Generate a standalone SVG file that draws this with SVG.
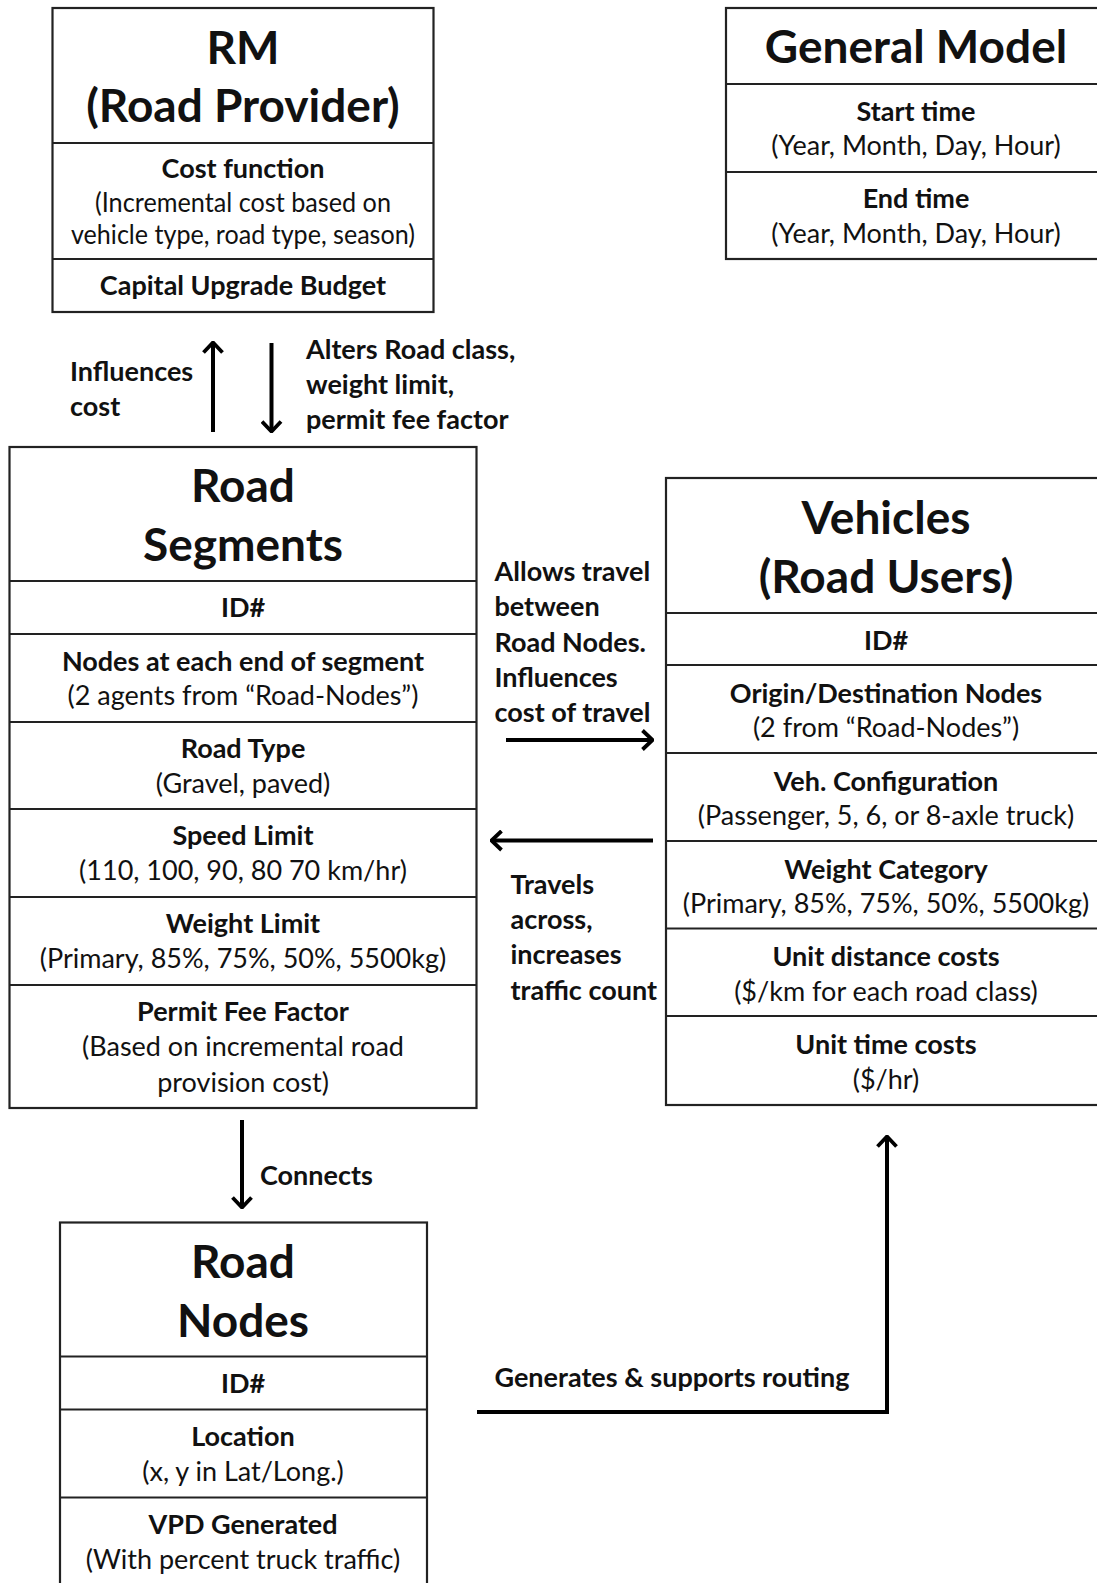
<svg xmlns="http://www.w3.org/2000/svg" width="1097" height="1583" viewBox="0 0 1097 1583">
  <style>
    .box { fill: #fff; stroke: #222; stroke-width: 2.2; }
    .div { stroke: #222; stroke-width: 2.2; }
    text { font-family: Lato, "Liberation Sans", sans-serif; fill: #111; }
    .title { font-size: 46px; font-weight: 700; text-anchor: middle; }
    .head { font-size: 27px; font-weight: 700; text-anchor: middle; }
    .sub { font-size: 27px; font-weight: 400; text-anchor: middle; }
    .lbl { font-size: 27px; font-weight: 700; }
    .conn { stroke: #000; stroke-width: 4; fill: none; marker-end: url(#chev); }
  </style>
  <defs>
    <marker id="chev" viewBox="0 0 13 22" refX="11" refY="11" markerWidth="13" markerHeight="22" markerUnits="userSpaceOnUse" orient="auto">
      <path d="M1.5,1.5 L11.5,11 L1.5,20.5" fill="none" stroke="#000" stroke-width="3.8" stroke-linejoin="miter"/>
    </marker>
  </defs>
  <rect width="1097" height="1583" fill="#fff"/>

  <!-- RM (Road Provider) -->
  <g id="rm">
    <rect class="box" x="52.5" y="8" width="381" height="304"/>
    <line class="div" x1="52.5" y1="143" x2="433.5" y2="143"/>
    <line class="div" x1="52.5" y1="259" x2="433.5" y2="259"/>
    <text class="title" x="243" y="64">RM</text>
    <text class="title" x="243" y="122">(Road Provider)</text>
    <text class="head" x="243" y="178">Cost function</text>
    <text class="sub" x="243" y="211.5" textLength="296" lengthAdjust="spacingAndGlyphs">(Incremental cost based on</text>
    <text class="sub" x="243" y="243.5" textLength="344" lengthAdjust="spacingAndGlyphs">vehicle type, road type, season)</text>
    <text class="head" x="243" y="295">Capital Upgrade Budget</text>
  </g>

  <!-- General Model -->
  <g id="general-model">
    <rect class="box" x="726" y="8" width="390" height="251"/>
    <line class="div" x1="726" y1="84" x2="1116" y2="84"/>
    <line class="div" x1="726" y1="172" x2="1116" y2="172"/>
    <text class="title" x="916" y="63">General Model</text>
    <text class="head" x="916" y="120.5">Start time</text>
    <text class="sub" x="916" y="154.5">(Year, Month, Day, Hour)</text>
    <text class="head" x="916" y="207.5">End time</text>
    <text class="sub" x="916" y="242.5">(Year, Month, Day, Hour)</text>
  </g>

  <!-- Road Segments -->
  <g id="road-segments">
    <rect class="box" x="9.5" y="447" width="467" height="661"/>
    <line class="div" x1="9.5" y1="581" x2="476.5" y2="581"/>
    <line class="div" x1="9.5" y1="634" x2="476.5" y2="634"/>
    <line class="div" x1="9.5" y1="722" x2="476.5" y2="722"/>
    <line class="div" x1="9.5" y1="809" x2="476.5" y2="809"/>
    <line class="div" x1="9.5" y1="897" x2="476.5" y2="897"/>
    <line class="div" x1="9.5" y1="985" x2="476.5" y2="985"/>
    <text class="title" x="243" y="502">Road</text>
    <text class="title" x="243" y="560.5">Segments</text>
    <text class="head" x="243" y="617">ID#</text>
    <text class="head" x="243" y="670.5">Nodes at each end of segment</text>
    <text class="sub" x="243" y="704.5">(2 agents from “Road-Nodes”)</text>
    <text class="head" x="243" y="757.5">Road Type</text>
    <text class="sub" x="243" y="792.5">(Gravel, paved)</text>
    <text class="head" x="243" y="845">Speed Limit</text>
    <text class="sub" x="243" y="879.5">(110, 100, 90, 80 70 km/hr)</text>
    <text class="head" x="243" y="933">Weight Limit</text>
    <text class="sub" x="243" y="968">(Primary, 85%, 75%, 50%, 5500kg)</text>
    <text class="head" x="243" y="1020.5">Permit Fee Factor</text>
    <text class="sub" x="243" y="1056">(Based on incremental road</text>
    <text class="sub" x="243" y="1091.5">provision cost)</text>
  </g>

  <!-- Vehicles (Road Users) -->
  <g id="vehicles">
    <rect class="box" x="666" y="478" width="450" height="627"/>
    <line class="div" x1="666" y1="613" x2="1116" y2="613"/>
    <line class="div" x1="666" y1="665" x2="1116" y2="665"/>
    <line class="div" x1="666" y1="753" x2="1116" y2="753"/>
    <line class="div" x1="666" y1="841" x2="1116" y2="841"/>
    <line class="div" x1="666" y1="928.5" x2="1116" y2="928.5"/>
    <line class="div" x1="666" y1="1016" x2="1116" y2="1016"/>
    <text class="title" x="886" y="534">Vehicles</text>
    <text class="title" x="886" y="592.5">(Road Users)</text>
    <text class="head" x="886" y="649.5">ID#</text>
    <text class="head" x="886" y="702.5">Origin/Destination Nodes</text>
    <text class="sub" x="886" y="737">(2 from “Road-Nodes”)</text>
    <text class="head" x="886" y="790.5">Veh. Configuration</text>
    <text class="sub" x="886" y="825">(Passenger, 5, 6, or 8-axle truck)</text>
    <text class="head" x="886" y="878.5">Weight Category</text>
    <text class="sub" x="886" y="912.5">(Primary, 85%, 75%, 50%, 5500kg)</text>
    <text class="head" x="886" y="966">Unit distance costs</text>
    <text class="sub" x="886" y="1000.5">($/km for each road class)</text>
    <text class="head" x="886" y="1054">Unit time costs</text>
    <text class="sub" x="886" y="1088.5">($/hr)</text>
  </g>

  <!-- Road Nodes -->
  <g id="road-nodes">
    <rect class="box" x="60" y="1222.5" width="367" height="400"/>
    <line class="div" x1="60" y1="1356.5" x2="427" y2="1356.5"/>
    <line class="div" x1="60" y1="1409.5" x2="427" y2="1409.5"/>
    <line class="div" x1="60" y1="1497.5" x2="427" y2="1497.5"/>
    <text class="title" x="243" y="1278">Road</text>
    <text class="title" x="243" y="1336.5">Nodes</text>
    <text class="head" x="243" y="1393">ID#</text>
    <text class="head" x="243" y="1445.5">Location</text>
    <text class="sub" x="243" y="1480.5">(x, y in Lat/Long.)</text>
    <text class="head" x="243" y="1533.5">VPD Generated</text>
    <text class="sub" x="243" y="1568.5">(With percent truck traffic)</text>
  </g>

  <!-- Connectors and their labels -->
  <g id="connectors">
    <line class="conn" x1="213" y1="432" x2="213" y2="343"/>
    <line class="conn" x1="271.5" y1="343" x2="271.5" y2="431"/>
    <line class="conn" x1="506" y1="740" x2="652" y2="740"/>
    <line class="conn" x1="653" y1="840.5" x2="492" y2="840.5"/>
    <line class="conn" x1="242" y1="1120" x2="242" y2="1207"/>
    <polyline class="conn" points="477,1412 887,1412 887,1137"/>

    <text class="lbl" x="70" y="380.5">Influences</text>
    <text class="lbl" x="70" y="416">cost</text>
    <text class="lbl" x="306" y="358.5">Alters Road class,</text>
    <text class="lbl" x="306" y="394">weight limit,</text>
    <text class="lbl" x="306" y="428.5">permit fee factor</text>

    <text class="lbl" x="494.5" y="580.5">Allows travel</text>
    <text class="lbl" x="494.5" y="616">between</text>
    <text class="lbl" x="494.5" y="651.5">Road Nodes.</text>
    <text class="lbl" x="494.5" y="686.5">Influences</text>
    <text class="lbl" x="494.5" y="722">cost of travel</text>

    <text class="lbl" x="510.5" y="893.5">Travels</text>
    <text class="lbl" x="510.5" y="929">across,</text>
    <text class="lbl" x="510.5" y="964">increases</text>
    <text class="lbl" x="510.5" y="999.5">traffic count</text>

    <text class="lbl" x="260" y="1185">Connects</text>
    <text class="lbl" x="494.5" y="1387">Generates &amp; supports routing</text>
  </g>
</svg>
